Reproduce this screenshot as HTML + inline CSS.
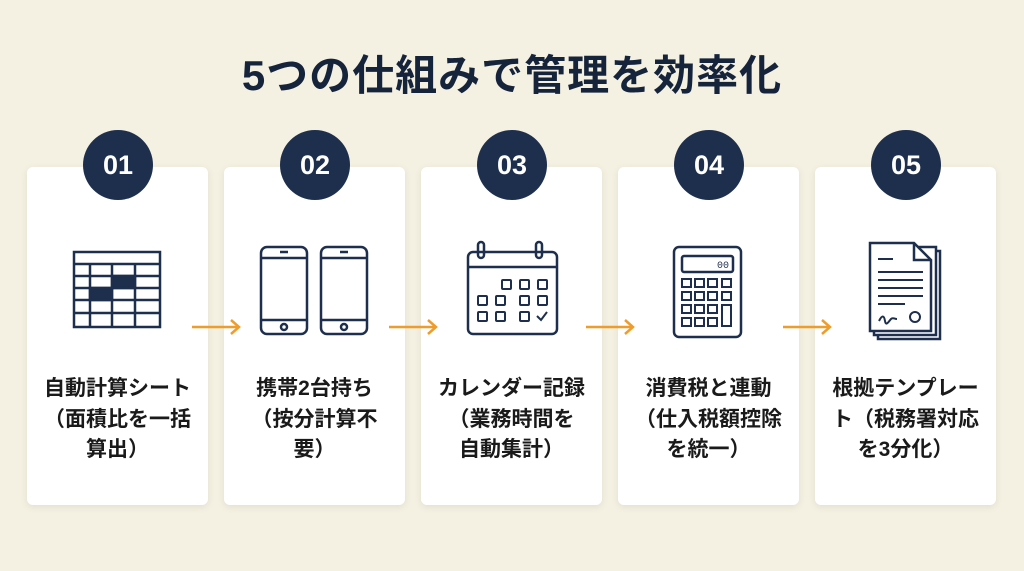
<!DOCTYPE html>
<html><head><meta charset="utf-8"><style>
body{margin:0;width:1024px;height:571px;background:#f4f0e2;font-family:"Liberation Sans","Noto Sans CJK JP",sans-serif;position:relative;overflow:hidden}
.title{position:absolute;left:0;width:1024px;top:42px;text-align:center;font-size:42px;font-weight:bold;color:#15233b;letter-spacing:1px}
.card{position:absolute;top:167px;width:181px;height:338px;background:#fff;border-radius:6px;box-shadow:0 2px 8px rgba(0,0,0,0.08)}
.num{position:absolute;top:130px;width:70px;height:70px;border-radius:50%;background:#1d2f4c;color:#fff;font-size:27px;font-weight:bold;text-align:center;line-height:70px}
.txt{position:absolute;top:207px;left:0;width:181px;text-align:center;font-size:21px;font-weight:bold;color:#1a1a1a;line-height:30.5px}
svg.ic{position:absolute;left:0;top:70px}
.arrow{position:absolute;top:318px}
</style></head><body>
<div class="title">5つの仕組みで管理を効率化</div>

<div class="card" style="left:27px">
<svg class="ic" width="181" height="130" viewBox="0 0 181 130" fill="none" stroke="#1d2f4c" stroke-width="2.5">
<rect x="47" y="15" width="86" height="75"/>
<line x1="47" y1="27" x2="133" y2="27"/><line x1="47" y1="39" x2="133" y2="39"/><line x1="47" y1="51" x2="133" y2="51"/><line x1="47" y1="63" x2="133" y2="63"/><line x1="47" y1="76" x2="133" y2="76"/>
<line x1="63" y1="27" x2="63" y2="90"/><line x1="85" y1="27" x2="85" y2="90"/><line x1="108" y1="27" x2="108" y2="90"/>
<rect x="85" y="39" width="23" height="12" fill="#1d2f4c"/><rect x="63" y="51" width="22" height="12" fill="#1d2f4c"/>
</svg>
<div class="txt">自動計算シート<br>（面積比を一括<br>算出）</div></div>
<div class="num" style="left:83px">01</div>

<div class="card" style="left:224px">
<svg class="ic" width="181" height="130" viewBox="0 0 181 130" fill="none" stroke="#1d2f4c" stroke-width="2.5">
<rect x="37" y="10" width="46" height="87" rx="6"/><line x1="37" y1="21" x2="83" y2="21"/><line x1="37" y1="83" x2="83" y2="83"/><line x1="56" y1="15" x2="64" y2="15"/><circle cx="60" cy="90" r="3"/>
<rect x="97" y="10" width="46" height="87" rx="6"/><line x1="97" y1="21" x2="143" y2="21"/><line x1="97" y1="83" x2="143" y2="83"/><line x1="116" y1="15" x2="124" y2="15"/><circle cx="120" cy="90" r="3"/>
</svg>
<div class="txt">携帯2台持ち<br>（按分計算不<br>要）</div></div>
<div class="num" style="left:280px">02</div>

<div class="card" style="left:421px">
<svg class="ic" width="181" height="130" viewBox="0 0 181 130" fill="none" stroke="#1d2f4c" stroke-width="2.5">
<rect x="47" y="15" width="89" height="82" rx="5"/><line x1="47" y1="30" x2="136" y2="30"/>
<rect x="57" y="5" width="6" height="16" rx="3"/><rect x="115" y="5" width="6" height="16" rx="3"/>
<g stroke-width="2"><rect x="81" y="43" width="9" height="9" rx="1"/><rect x="99" y="43" width="9" height="9" rx="1"/><rect x="117" y="43" width="9" height="9" rx="1"/>
<rect x="57" y="59" width="9" height="9" rx="1"/><rect x="75" y="59" width="9" height="9" rx="1"/><rect x="99" y="59" width="9" height="9" rx="1"/><rect x="117" y="59" width="9" height="9" rx="1"/>
<rect x="57" y="75" width="9" height="9" rx="1"/><rect x="75" y="75" width="9" height="9" rx="1"/><rect x="99" y="75" width="9" height="9" rx="1"/><path d="M116 79l4 4 6-8"/></g>
</svg>
<div class="txt">カレンダー記録<br>（業務時間を<br>自動集計）</div></div>
<div class="num" style="left:477px">03</div>

<div class="card" style="left:618px">
<svg class="ic" width="181" height="130" viewBox="0 0 181 130" fill="none" stroke="#1d2f4c" stroke-width="2.5">
<rect x="56" y="10" width="67" height="90" rx="5"/><rect x="64" y="19" width="51" height="16" rx="2"/>
<text x="111" y="31" font-size="10" fill="#1d2f4c" stroke="none" text-anchor="end" font-family="Liberation Mono">00</text>
<g stroke-width="2"><rect x="64" y="42" width="9" height="8"/><rect x="77" y="42" width="9" height="8"/><rect x="90" y="42" width="9" height="8"/><rect x="104" y="42" width="9" height="8"/>
<rect x="64" y="55" width="9" height="8"/><rect x="77" y="55" width="9" height="8"/><rect x="90" y="55" width="9" height="8"/><rect x="104" y="55" width="9" height="8"/>
<rect x="64" y="68" width="9" height="8"/><rect x="77" y="68" width="9" height="8"/><rect x="90" y="68" width="9" height="8"/><rect x="104" y="68" width="9" height="21"/>
<rect x="64" y="81" width="9" height="8"/><rect x="77" y="81" width="9" height="8"/><rect x="90" y="81" width="9" height="8"/></g>
</svg>
<div class="txt">消費税と連動<br>（仕入税額控除<br>を統一）</div></div>
<div class="num" style="left:674px">04</div>

<div class="card" style="left:815px">
<svg class="ic" width="181" height="130" viewBox="0 0 181 130" fill="none" stroke="#1d2f4c" stroke-width="2.5">
<rect x="63" y="14" width="62" height="88"/><rect x="59" y="10" width="62" height="88" fill="#fff"/>
<path d="M55 6h44l17 17v71h-61z" fill="#fff"/><path d="M99 6v17h17"/>
<g stroke-width="2"><line x1="63" y1="22" x2="78" y2="22"/><line x1="63" y1="35" x2="108" y2="35"/><line x1="63" y1="43" x2="108" y2="43"/><line x1="63" y1="51" x2="108" y2="51"/><line x1="63" y1="59" x2="108" y2="59"/><line x1="63" y1="67" x2="90" y2="67"/>
<path d="M64 84c3-6 5-6 6 0s4 0 6-2 3 0 6 0"/><circle cx="100" cy="80" r="5"/></g>
</svg>
<div class="txt">根拠テンプレー<br>ト（税務署対応<br>を3分化）</div></div>
<div class="num" style="left:871px">05</div>

<svg class="arrow" style="left:190px" width="52" height="18"><line x1="2" y1="9" x2="48" y2="9" stroke="#ef9c2a" stroke-width="2.5"/><path d="M41 2l8 7-8 7" fill="none" stroke="#ef9c2a" stroke-width="2.5"/></svg>
<svg class="arrow" style="left:387px" width="52" height="18"><line x1="2" y1="9" x2="48" y2="9" stroke="#ef9c2a" stroke-width="2.5"/><path d="M41 2l8 7-8 7" fill="none" stroke="#ef9c2a" stroke-width="2.5"/></svg>
<svg class="arrow" style="left:584px" width="52" height="18"><line x1="2" y1="9" x2="48" y2="9" stroke="#ef9c2a" stroke-width="2.5"/><path d="M41 2l8 7-8 7" fill="none" stroke="#ef9c2a" stroke-width="2.5"/></svg>
<svg class="arrow" style="left:781px" width="52" height="18"><line x1="2" y1="9" x2="48" y2="9" stroke="#ef9c2a" stroke-width="2.5"/><path d="M41 2l8 7-8 7" fill="none" stroke="#ef9c2a" stroke-width="2.5"/></svg>
</body></html>
